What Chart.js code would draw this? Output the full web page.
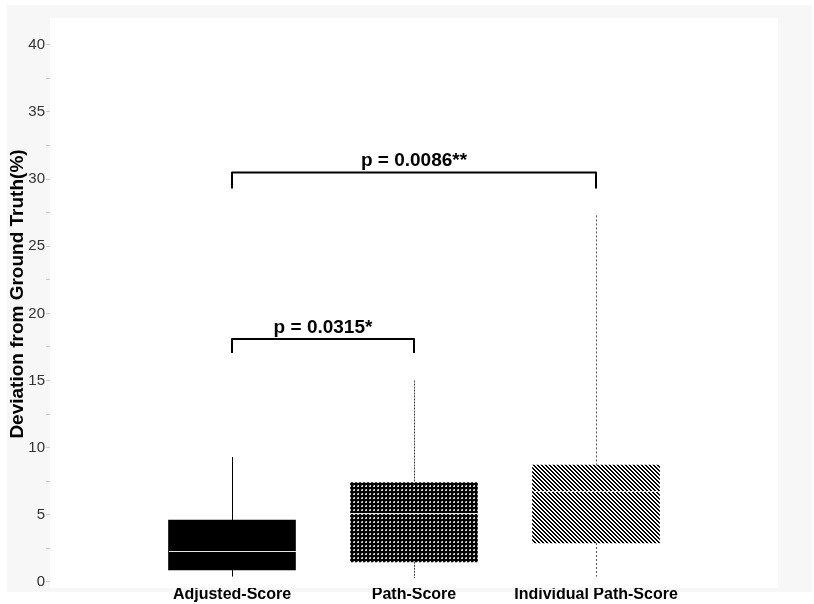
<!DOCTYPE html>
<html>
<head>
<meta charset="utf-8">
<script src="https://cdn.jsdelivr.net/npm/chart.js@4/dist/chart.umd.min.js"></script>
<style>
  body { margin: 0; background: #fff; }
  canvas { display: block; }
</style>
</head>
<body>
<canvas id="boxChart" width="814" height="604"></canvas>
<script>
// groups and box summary values (%)
var categories = ['Adjusted-Score', 'Path-Score', 'Individual Path-Score'];
var whiskerLow = [0.4, 0.3, 0.4];
var q1 = [0.9, 1.5, 2.9];
var median = [2.3, 5.1, 6.8];
var q3 = [4.6, 7.4, 8.7];
var whiskerHigh = [9.3, 15.0, 27.3];

// significance brackets: group indexes, bracket height, leg length, label
var bracketFrom = [0, 0];
var bracketTo = [1, 2];
var bracketY = [18.1, 30.5];
var bracketDrop = [1.05, 1.2];
var bracketText = ['p = 0.0315*', 'p = 0.0086**'];

var yTitle = 'Deviation from Ground Truth(%)';
var yTicks = [];
for (var t = 0; t <= 40; t += 2.5) yTicks.push(t);

var FONT = '"Liberation Sans", Arial, sans-serif';

function makePattern(w, h, draw) {
    var c = document.createElement('canvas');
    c.width = w; c.height = h;
    var g = c.getContext('2d');
    draw(g);
    return document.createElement('canvas').getContext('2d').createPattern(c, 'repeat');
}

var dots = makePattern(4, 4, function (g) {
    g.fillStyle = '#000';
    g.fillRect(0, 0, 4, 4);
    g.fillStyle = '#cfcfcf';
    g.fillRect(1, 1, 2, 2);
    g.fillStyle = '#777';
    g.fillRect(1, 1, 1, 1);
});

var stripes = makePattern(4, 4, function (g) {
    g.fillStyle = '#fff';
    g.fillRect(0, 0, 4, 4);
    g.fillStyle = '#000';
    for (var i = 0; i < 4; i++) {
        g.fillRect(i, i, 1, 1);
        g.fillRect((i + 1) % 4, i, 1, 1);
    }
});

var fills = ['#000', dots, stripes];
var whiskerDash = [[], [2, 1], [2, 2]];
var whiskerColor = ['#000', '#444', '#555'];

// pad the category axis so the groups sit at 1..3 of 0..4
var labels = [''].concat(categories, ['']);
var boxes = [null].concat(categories.map(function (c, i) { return [q1[i], q3[i]]; }), [null]);

var panel = {
    id: 'panel',
    beforeDraw: function (chart) {
        var ctx = chart.ctx, a = chart.chartArea;
        ctx.save();
        ctx.fillStyle = '#f7f7f7';
        ctx.fillRect(7, 5, 805, 587);
        ctx.fillStyle = '#fff';
        ctx.fillRect(a.left, a.top, a.right - a.left, a.bottom - a.top);
        // rotated y axis title
        ctx.translate(18, 294);
        ctx.rotate(-Math.PI / 2);
        ctx.fillStyle = '#000';
        ctx.font = 'bold 19px ' + FONT;
        ctx.textAlign = 'center';
        ctx.textBaseline = 'middle';
        ctx.fillText(yTitle, 0, 0);
        ctx.restore();
    }
};

var boxExtras = {
    id: 'boxExtras',
    afterDatasetsDraw: function (chart) {
        var ctx = chart.ctx, x = chart.scales.x, y = chart.scales.y;
        var half = 63.5;
        ctx.save();
        categories.forEach(function (c, i) {
            var cx = Math.round(x.getPixelForValue(i + 1)) + 0.5;
            // whiskers
            ctx.strokeStyle = whiskerColor[i];
            ctx.lineWidth = 1;
            ctx.setLineDash(whiskerDash[i]);
            ctx.beginPath();
            ctx.moveTo(cx, y.getPixelForValue(whiskerHigh[i]));
            ctx.lineTo(cx, y.getPixelForValue(q3[i]));
            ctx.moveTo(cx, y.getPixelForValue(q1[i]));
            ctx.lineTo(cx, y.getPixelForValue(whiskerLow[i]));
            ctx.stroke();
            // median
            ctx.setLineDash([]);
            ctx.strokeStyle = '#e6e6e6';
            var my = Math.round(y.getPixelForValue(median[i])) + 0.5;
            ctx.beginPath();
            ctx.moveTo(cx - half, my);
            ctx.lineTo(cx + half, my);
            ctx.stroke();
        });

        // brackets with p-values
        ctx.setLineDash([]);
        ctx.strokeStyle = '#000';
        ctx.lineWidth = 2;
        ctx.lineJoin = 'round';
        ctx.fillStyle = '#000';
        ctx.font = 'bold 19px ' + FONT;
        ctx.textAlign = 'center';
        ctx.textBaseline = 'alphabetic';
        bracketText.forEach(function (txt, k) {
            var x1 = x.getPixelForValue(bracketFrom[k] + 1);
            var x2 = x.getPixelForValue(bracketTo[k] + 1);
            var top = y.getPixelForValue(bracketY[k]);
            var low = y.getPixelForValue(bracketY[k] - bracketDrop[k]);
            ctx.beginPath();
            ctx.moveTo(x1, low);
            ctx.lineTo(x1, top);
            ctx.lineTo(x2, top);
            ctx.lineTo(x2, low);
            ctx.stroke();
            ctx.fillText(txt, (x1 + x2) / 2, top - 6);
        });
        ctx.restore();
    }
};

new Chart(document.getElementById('boxChart'), {
    type: 'bar',
    data: {
        labels: labels,
        datasets: [{
            data: boxes,
            backgroundColor: [null].concat(fills, [null]),
            borderWidth: 0,
            barThickness: 127
        }]
    },
    options: {
        responsive: false,
        animation: false,
        layout: { padding: { top: 18, right: 36, left: 0, bottom: 0 } },
        plugins: { legend: { display: false }, tooltip: { enabled: false } },
        scales: {
            x: {
                type: 'category',
                offset: false,
                grid: { display: false, drawTicks: false },
                border: { display: false },
                ticks: {
                    autoSkip: false,
                    maxRotation: 0,
                    padding: -3,
                    color: '#000',
                    font: { family: FONT, size: 16, weight: 'bold' }
                },
                afterFit: function (s) { s.height = 16; }
            },
            y: {
                min: -0.45,
                max: 42,
                afterBuildTicks: function (s) {
                    s.ticks = yTicks.map(function (v) { return { value: v }; });
                },
                grid: { drawOnChartArea: false, drawTicks: true, tickLength: 4, color: '#c8c8c8' },
                border: { display: false },
                ticks: {
                    padding: 1,
                    color: '#333',
                    font: { family: FONT, size: 15 },
                    callback: function (v) { return v % 5 === 0 ? v : ''; }
                },
                afterFit: function (s) { s.width = 50; }
            }
        }
    },
    plugins: [panel, boxExtras]
});
</script>
</body>
</html>
